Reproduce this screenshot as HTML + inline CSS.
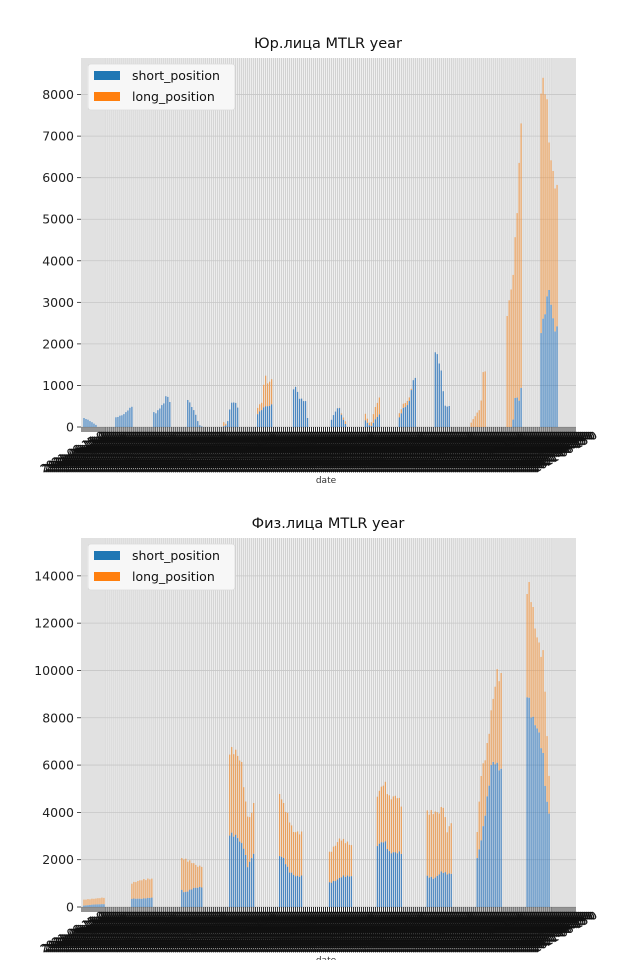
<!DOCTYPE html>
<html><head><meta charset="utf-8"><style>
html,body{margin:0;padding:0;background:#fff;}
svg{display:block;font-family:"DejaVu Sans","Liberation Sans",sans-serif;}
</style></head><body>
<svg id="s" width="640" height="960" xmlns="http://www.w3.org/2000/svg"></svg>
<script>
const S=document.getElementById('s');
let h='';
const X0=81,X1=576,N=248,step=(X1-X0)/N;
function interp(pts,t){
  if(t<=pts[0][0])return pts[0][1];
  for(let i=1;i<pts.length;i++){if(t<=pts[i][0]){const a=pts[i-1],b=pts[i];return a[1]+(b[1]-a[1])*(t-a[0])/(b[0]-a[0]);}}
  return pts[pts.length-1][1];
}
function chart(cfg){
  const {top,bot,ymax,ticks,title,clusters}=cfg;
  const ph=bot-top;
  const ys=v=>bot-v/ymax*ph;
  const yk=v=>ys(v*1000);
  h+=`<rect x="${X0}" y="${top}" width="${X1-X0}" height="${ph}" fill="#f0f0f0"/>`;
  for(let i=0;i<N;i++){const x=X0+step*(i+0.5);h+=`<line x1="${x.toFixed(1)}" y1="${top}" x2="${x.toFixed(1)}" y2="${bot}" stroke="#c8c8c8" stroke-width="0.75"/>`;}
  ticks.forEach(t=>{const y=ys(t);h+=`<line x1="${X0}" y1="${y}" x2="${X1}" y2="${y}" stroke="#c6c6c6" stroke-width="0.8"/><line x1="${X0-4}" y1="${y}" x2="${X0}" y2="${y}" stroke="#222" stroke-width="0.8"/><text x="${X0-7}" y="${y+4.5}" font-size="12.5" text-anchor="end" fill="#222">${t}</text>`;});
  for(let i=0;i<N;i++){
    const x=X0+step*(i+0.5);
    for(const c of clusters){
      if(x>=c.a&&x<=c.b){
        const t=(x-c.a)/(c.b-c.a);
        const n=1+0.025*Math.sin(i*2.7);
        const tot=interp(c.tot,t)*n, sh=Math.min(interp(c.sh,t)*n,tot);
        const bw=step*0.62;
        if(tot>sh)h+=`<rect x="${(x-bw/2).toFixed(2)}" y="${yk(tot).toFixed(1)}" width="${bw.toFixed(2)}" height="${(yk(sh)-yk(tot)).toFixed(1)}" fill="#e8a05e"/>`;
        if(sh>0)h+=`<rect x="${(x-bw/2).toFixed(2)}" y="${yk(sh).toFixed(1)}" width="${bw.toFixed(2)}" height="${(bot-yk(sh)).toFixed(1)}" fill="#4a86c0"/>`;
      }
    }
  }
  for(let i=0;i<N;i++){const x=X0+step*(i+0.5);h+=`<line x1="${x.toFixed(1)}" y1="${bot}" x2="${x.toFixed(1)}" y2="${bot+5}" stroke="#111" stroke-width="0.9"/>`;}
  for(let i=0;i<N;i++){const x=X0+step*(i+0.5)-8;const y=bot+28;h+=`<text x="${x.toFixed(1)}" y="${y}" font-size="10.5" text-anchor="middle" fill="#111" stroke="#111" stroke-width="0.3" transform="rotate(-30 ${x.toFixed(1)} ${y})">2021-06-15 0</text>`;}
  h+=`<text x="326" y="${bot+56}" font-size="9" text-anchor="middle" fill="#333">date</text>`;
  h+=`<text x="328" y="${top-10}" font-size="14.5" text-anchor="middle" fill="#111">${title}</text>`;
  h+=`<rect x="88" y="${top+6}" width="147" height="46" rx="3" fill="#f7f7f7" stroke="#dcdcdc" stroke-width="0.8"/>`;
  h+=`<rect x="94" y="${top+13}" width="26" height="9" fill="#1f77b4"/><text x="132" y="${top+22}" font-size="12.5" fill="#111">short_position</text>`;
  h+=`<rect x="94" y="${top+34}" width="26" height="9" fill="#ff7f0e"/><text x="132" y="${top+43}" font-size="12.5" fill="#111">long_position</text>`;
}
chart({top:58,bot:427,ymax:8880,ticks:[0,1000,2000,3000,4000,5000,6000,7000,8000],title:"Юр.лица MTLR year",clusters:[
 {a:82,b:96,tot:[[0,.12],[.15,.22],[.5,.16],[1,.05]],sh:[[0,.12],[.15,.22],[.5,.16],[1,.05]]},
 {a:115,b:132,tot:[[0,.22],[.5,.3],[1,.5]],sh:[[0,.22],[.5,.3],[1,.5]]},
 {a:152,b:170,tot:[[0,.48],[.15,.3],[.7,.6],[.8,.8],[1,.6]],sh:[[0,.48],[.15,.3],[.7,.6],[.8,.8],[1,.6]]},
 {a:187,b:203,tot:[[0,.7],[.5,.35],[.75,.05],[1,0]],sh:[[0,.7],[.5,.35],[.75,.05],[1,0]]},
 {a:222,b:239,tot:[[0,.15],[.3,.05],[.5,.55],[.75,.62],[1,.4]],sh:[[0,0],[.3,.05],[.5,.55],[.75,.62],[1,.4]]},
 {a:257,b:273,tot:[[0,.45],[.3,.6],[.5,1.3],[.7,1.0],[1,1.25]],sh:[[0,.3],[.5,.5],[.8,.5],[1,.6]]},
 {a:293,b:308,tot:[[0,.9],[.2,.98],[.4,.7],[.9,.6],[1,.05]],sh:[[0,.9],[.2,.98],[.4,.7],[.9,.6],[1,.05]]},
 {a:330,b:346,tot:[[0,.1],[.3,.35],[.55,.5],[.8,.25],[1,.12]],sh:[[0,.1],[.3,.35],[.55,.5],[.8,.2],[1,.05]]},
 {a:364,b:381,tot:[[0,.4],[.25,.15],[.4,.05],[.6,.4],[.8,.6],[1,.8]],sh:[[0,.2],[.4,0],[.7,.2],[1,.35]]},
 {a:398,b:416,tot:[[0,.25],[.3,.55],[.6,.65],[.8,1.05],[1,1.25]],sh:[[0,.15],[.3,.45],[.6,.55],[.8,1.05],[1,1.25]]},
 {a:434,b:451,tot:[[0,1.8],[.2,1.75],[.5,1.2],[.6,.5],[1,.5]],sh:[[0,1.8],[.2,1.75],[.5,1.2],[.6,.5],[1,.5]]},
 {a:471,b:487,tot:[[0,.1],[.4,.35],[.6,.45],[.8,1.5],[1,1.2]],sh:[[0,0],[1,0]]},
 {a:506,b:522,tot:[[0,2.4],[.15,3.0],[.35,3.3],[.5,4.0],[.7,5.3],[.85,6.5],[.95,7.4],[1,7.4]],sh:[[0,0],[.4,0],[.6,.8],[.85,.6],[1,1.15]]},
 {a:541,b:558,tot:[[0,8.2],[.3,8.2],[.45,7.0],[.65,6.2],[.8,5.9],[1,5.6]],sh:[[0,2.3],[.3,2.9],[.45,3.4],[.7,2.6],[.85,2.3],[1,2.4]]}
]});
chart({top:538,bot:907,ymax:15600,ticks:[0,2000,4000,6000,8000,10000,12000,14000],title:"Физ.лица MTLR year",clusters:[
 {a:82,b:105,tot:[[0,.3],[.5,.35],[1,.4]],sh:[[0,.05],[.5,.1],[1,.12]]},
 {a:131,b:153,tot:[[0,1.0],[.5,1.15],[1,1.2]],sh:[[0,.35],[.5,.35],[1,.4]]},
 {a:180,b:203,tot:[[0,2.1],[.5,1.9],[.8,1.7],[1,1.75]],sh:[[0,.8],[.2,.6],[.6,.8],[1,.85]]},
 {a:229,b:254,tot:[[0,6.6],[.25,6.6],[.5,6.1],[.7,4.0],[.85,3.7],[1,4.5]],sh:[[0,3.1],[.3,3.0],[.6,2.5],[.75,1.7],[1,2.3]]},
 {a:278,b:303,tot:[[0,5.0],[.2,4.4],[.45,3.7],[.6,3.2],[1,3.1]],sh:[[0,2.2],[.2,2.1],[.45,1.5],[.7,1.3],[1,1.3]]},
 {a:328,b:352,tot:[[0,2.2],[.3,2.6],[.5,2.9],[1,2.6]],sh:[[0,1.0],[.3,1.1],[.6,1.3],[1,1.3]]},
 {a:377,b:402,tot:[[0,4.7],[.3,5.3],[.5,4.6],[.8,4.7],[1,4.3]],sh:[[0,2.6],[.3,2.8],[.5,2.3],[1,2.3]]},
 {a:427,b:452,tot:[[0,4.0],[.5,4.0],[.65,4.3],[.8,3.2],[1,3.6]],sh:[[0,1.3],[.3,1.2],[.6,1.5],[.8,1.4],[1,1.4]]},
 {a:477,b:502,tot:[[0,3.0],[.15,5.5],[.4,6.7],[.6,8.5],[.8,9.9],[1,9.6]],sh:[[0,2.0],[.2,3.0],[.4,4.5],[.6,6.2],[.9,5.9],[1,5.6]]},
 {a:526,b:550,tot:[[0,13.6],[.2,13.3],[.35,12.0],[.55,11.0],[.75,10.5],[.9,6.5],[1,5.0]],sh:[[0,9.3],[.25,8.0],[.5,7.5],[.7,6.5],[.85,4.5],[1,3.8]]}
]});
S.innerHTML=h;
</script>
</body></html>
